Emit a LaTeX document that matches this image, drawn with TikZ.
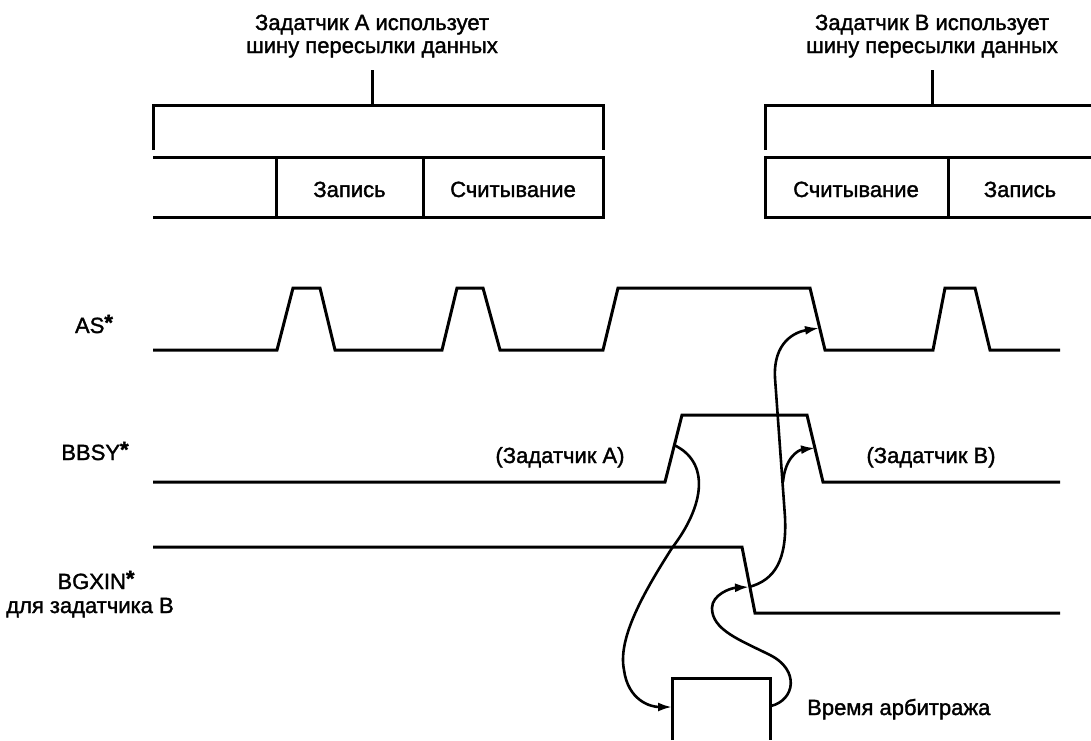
\documentclass[tikz,border=0pt]{standalone}
\usepackage{fontspec}
\setmainfont{Liberation Sans}
\newfontfamily\lblfont{Liberation Sans}[FakeBold=1.5]
\usetikzlibrary{arrows.meta}
\tikzset{
  wave/.style={line width=3pt},
  frame/.style={line width=3pt},
  conn/.style={line width=2.6pt, -{Latex[length=14pt,width=9pt]}},
  lbl/.style={font=\lblfont\fontsize{22}{23}\selectfont, inner sep=0pt},
}
\newcommand{\sigstar}{\raisebox{3pt}{\textbf{*}}}
\begin{document}
\begin{tikzpicture}[x=1pt,y=-1pt]
\useasboundingbox (0,0) rectangle (1091,740);

% ---- titles
\node[lbl, align=center, anchor=base] (titleA) at (372,53) {Задатчик А использует\\шину пересылки данных};
\node[lbl, align=center, anchor=base] (titleB) at (932,53) {Задатчик В использует\\шину пересылки данных};

% ---- bracket A
\draw[frame] (372,70) -- (372,105);
\draw[frame] (153,150) -- (153,105) -- (603,105) -- (603,150);
\draw[frame] (153,157) -- (603,157) -- (603,217) -- (153,217);
\draw[frame] (276,157) -- (276,217);
\draw[frame] (423,157) -- (423,217);
\node[lbl, anchor=base] (wrA) at (349.5,197) {Запись};
\node[lbl, anchor=base] (rdA) at (513,197) {Считывание};

% ---- bracket B
\draw[frame] (932,70) -- (932,105);
\draw[frame] (765,150) -- (765,105) -- (1091,105);
\draw[frame] (1091,157) -- (765,157) -- (765,217) -- (1091,217);
\draw[frame] (948,157) -- (948,217);
\node[lbl, anchor=base] (rdB) at (856,197) {Считывание};
\node[lbl, anchor=base] (wrB) at (1020,197) {Запись};

% ---- signal names
\node[lbl, anchor=base] (asL) at (94,333) {AS\sigstar};
\node[lbl, anchor=base] (bbL) at (95,460) {BBSY\sigstar};
\node[lbl, anchor=base] (bgL) at (96,589) {BGXIN\sigstar};
\node[lbl, anchor=base] (bgL2) at (90,613) {для задатчика В};
\node[lbl, anchor=base] (mA) at (560,463) {(Задатчик А)};
\node[lbl, anchor=base] (mB) at (931,463) {(Задатчик В)};
\node[lbl, anchor=base west] (arbL) at (807,715) {Время арбитража};

% ---- waveforms
\draw[wave] (153,350) -- (277,350) -- (293,288) -- (320,288) -- (335,350)
  -- (442,350) -- (457,288) -- (483,288) -- (500,350)
  -- (603,350) -- (618,288) -- (810,288) -- (825,350)
  -- (933,350) -- (945,288) -- (975,288) -- (990,350) -- (1060,350);
\draw[wave] (153,482) -- (665,482) -- (682,415) -- (807,415) -- (823,482) -- (1060,482);
\draw[wave] (153,547) -- (742,547) -- (755,613) -- (1060,613);

% ---- arbitration box (open at the bottom)
\draw[frame] (672,740) -- (672,678) -- (770,678) -- (770,740);

% ---- connector end points
\coordinate (bbRise) at (674,445);
\coordinate (bbFall) at (815,448);
\coordinate (asFall) at (819,328);
\coordinate (bgFall) at (749,587);
\coordinate (boxL) at (672,707);
\coordinate (boxR) at (771,706);
\coordinate (branch) at (783,482);

% ---- connectors
\draw[conn] (bbRise) .. controls (710,462) and (705,505) .. (672,548)
  .. controls (640,598) and (618,640) .. (624,670)
  .. controls (628,700) and (650,707) .. (boxL);
\draw[conn] (boxR) .. controls (795,700) and (800,670) .. (770,655)
  .. controls (740,640) and (712,630) .. (712,608)
  .. controls (712,595) and (730,588) .. (bgFall);
\draw[conn] (bgFall) .. controls (775,580) and (787,560) .. (785,517)
  -- (775,378) .. controls (773,342) and (795,332) .. (asFall);
\draw[conn] (branch) .. controls (785,458) and (798,450) .. (bbFall);
\end{tikzpicture}
\end{document}
